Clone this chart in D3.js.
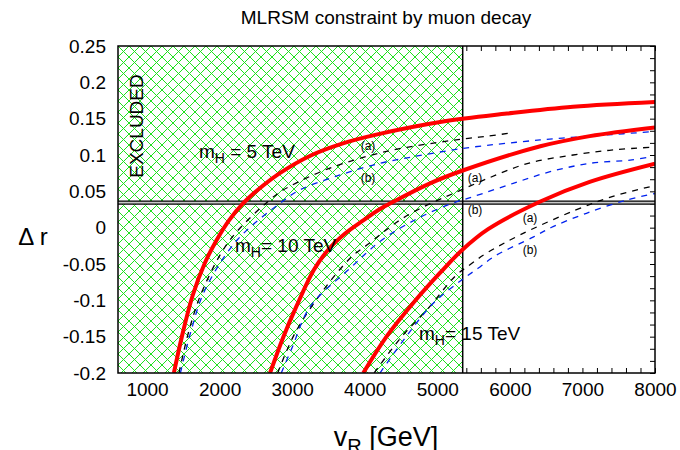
<!DOCTYPE html>
<html>
<head>
<meta charset="utf-8">
<script src="https://cdn.jsdelivr.net/npm/d3@7"></script>
<style>
body { margin: 0; background: #fff; }
text { font-family: "Liberation Sans", Arial, sans-serif; }
</style>
</head>
<body>
<div id="chart"></div>
<script>
// values: vR in GeV, delta r
var xTickLabels = [1000, 2000, 3000, 4000, 5000, 6000, 7000, 8000];
var yTickValues = [-0.2, -0.15, -0.1, -0.05, 0, 0.05, 0.1, 0.15, 0.2, 0.25];
var yTickLabels = ["-0.2", "-0.15", "-0.1", "-0.05", "0", "0.05", "0.1", "0.15", "0.2", "0.25"];

// red curves, one per mH
var vrRed5 = [1370, 1480, 1630, 1800, 1960, 2130, 2330, 2600, 2830, 3250, 3700, 4160, 5080, 5960, 6870, 8000];
var drRed5 = [-0.200, -0.150, -0.093, -0.048, -0.017, 0.010, 0.034, 0.058, 0.075, 0.099, 0.116, 0.128, 0.146, 0.157, 0.1665, 0.173];
var vrRed10 = [2695, 2880, 3060, 3300, 3500, 3730, 3980, 4200, 4420, 4900, 5360, 6420, 7100, 8000];
var drRed10 = [-0.200, -0.150, -0.108, -0.058, -0.030, -0.008, 0.010, 0.025, 0.037, 0.061, 0.079, 0.112, 0.126, 0.138];
var vrRed15 = [3980, 4300, 4700, 5040, 5350, 5700, 6420, 7100, 8000];
var drRed15 = [-0.200, -0.150, -0.100, -0.062, -0.030, -0.002, 0.036, 0.063, 0.088];

// dashed (a) black and (b) blue curves
var vrA5 = [1440, 1580, 1766, 2143, 2763, 2970, 3521, 4301, 5128, 5426, 5701, 5990];
var drA5 = [-0.200, -0.141, -0.086, -0.017, 0.044, 0.057, 0.082, 0.105, 0.119, 0.123, 0.126, 0.130];
var vrB5 = [1460, 1610, 1797, 2243, 2878, 3108, 3659, 4210, 4670, 5150, 5495, 6417, 7333, 7950];
var drB5 = [-0.200, -0.141, -0.086, -0.017, 0.037, 0.052, 0.0725, 0.0886, 0.0977, 0.106, 0.111, 0.1207, 0.1276, 0.132];
var vrA10 = [2800, 3040, 3430, 3820, 4030, 4233, 4486, 4738, 4991, 5220, 5701, 6252, 6872, 7423, 7950];
var drA10 = [-0.200, -0.145, -0.086, -0.040, -0.024, -0.008, 0.0106, 0.025, 0.037, 0.047, 0.068, 0.0886, 0.100, 0.107, 0.1106];
var vrB10 = [2850, 3000, 3246, 3797, 4210, 4690, 5190, 5495, 6046, 6555, 7106, 7658, 7950];
var drB10 = [-0.200, -0.165, -0.109, -0.056, -0.019, 0.0106, 0.033, 0.0427, 0.061, 0.077, 0.0886, 0.093, 0.0977];
var vrA15 = [4130, 4509, 4876, 5244, 5450, 5680, 6140, 6900, 7420, 8000];
var drA15 = [-0.200, -0.150, -0.111, -0.067, -0.051, -0.035, -0.010, 0.024, 0.043, 0.058];
var vrB15 = [4210, 4555, 4945, 5336, 5588, 5795, 6320, 6595, 7055, 7607, 8000];
var drB15 = [-0.200, -0.152, -0.104, -0.072, -0.054, -0.039, -0.013, 0.0014, 0.0198, 0.038, 0.047];

// muon decay band and excluded vR
var bandLow = 0.0325, bandHigh = 0.0366;
var excludedVR = 5350;

var width = 680, height = 450;
var pL = 118, pR = 655, pT = 46, pB = 373;

var svg = d3.select("#chart").append("svg")
    .attr("width", width)
    .attr("height", height);

var x = d3.scaleLinear().domain([600, 8000]).range([pL, pR]);
var y = d3.scaleLinear().domain([-0.2, 0.25]).range([pB, pT]);

var defs = svg.append("defs");
var pat = defs.append("pattern")
    .attr("id", "hatch")
    .attr("patternUnits", "userSpaceOnUse")
    .attr("x", pL).attr("y", pT)
    .attr("width", 11).attr("height", 11);
pat.append("rect").attr("width", 11).attr("height", 11).attr("fill", "#fff");
pat.append("path")
    .attr("d", "M0,0L11,11M11,0L0,11M-1,10L1,12M10,-1L12,1M-1,1L1,-1M10,12L12,10")
    .attr("stroke", "#1ee01e")
    .attr("stroke-width", 1);

defs.append("clipPath").attr("id", "plot")
    .append("rect")
    .attr("x", pL).attr("y", pT)
    .attr("width", pR - pL).attr("height", pB - pT);

// inward minor ticks
var minorX = d3.range(600, 8001, 200);
var minorY = d3.range(0, 28).map(function (i) { return -0.2 + i / 60; });

svg.append("g")
    .attr("transform", "translate(0," + pB + ")")
    .call(d3.axisBottom(x).tickValues(minorX).tickSize(-5).tickFormat(""))
    .call(function (g) { g.select(".domain").remove(); });
svg.append("g")
    .attr("transform", "translate(0," + pT + ")")
    .call(d3.axisTop(x).tickValues(minorX).tickSize(-5).tickFormat(""))
    .call(function (g) { g.select(".domain").remove(); });
svg.append("g")
    .attr("transform", "translate(" + pR + ",0)")
    .call(d3.axisRight(y).tickValues(minorY).tickSize(-5).tickFormat(""))
    .call(function (g) { g.select(".domain").remove(); });

// tick labels
svg.append("g")
    .attr("transform", "translate(0," + pB + ")")
    .call(d3.axisBottom(x).tickValues(xTickLabels).tickSize(0).tickPadding(10)
        .tickFormat(function (d) { return d; }))
    .call(function (g) {
        g.select(".domain").remove();
        g.selectAll("text").attr("font-size", 19).attr("fill", "#000")
            .attr("font-family", "Liberation Sans, Arial, sans-serif");
    });
svg.append("g")
    .attr("transform", "translate(" + pL + ",0)")
    .call(d3.axisLeft(y).tickValues(yTickValues).tickSize(0).tickPadding(12)
        .tickFormat(function (d, i) { return yTickLabels[i]; }))
    .call(function (g) {
        g.select(".domain").remove();
        g.selectAll("text").attr("font-size", 19).attr("fill", "#000")
            .attr("font-family", "Liberation Sans, Arial, sans-serif");
    });

// excluded region
svg.append("rect")
    .attr("x", pL).attr("y", pT)
    .attr("width", x(excludedVR) - pL)
    .attr("height", pB - pT)
    .attr("fill", "url(#hatch)");

// band from muon decay
svg.append("rect")
    .attr("x", pL).attr("y", y(bandHigh))
    .attr("width", pR - pL)
    .attr("height", y(bandLow) - y(bandHigh))
    .attr("fill", "#c8c8c8");
[bandLow, bandHigh].forEach(function (v) {
    svg.append("line")
        .attr("x1", pL).attr("x2", pR)
        .attr("y1", y(v)).attr("y2", y(v))
        .attr("stroke", "#000").attr("stroke-width", 1.2);
});
svg.append("line")
    .attr("x1", x(excludedVR)).attr("x2", x(excludedVR))
    .attr("y1", pT).attr("y2", pB)
    .attr("stroke", "#000").attr("stroke-width", 1.5);

var line = d3.line()
    .x(function (d) { return x(d[0]); })
    .y(function (d) { return y(d[1]); })
    .curve(d3.curveCatmullRom.alpha(0.5));

function pairs(a, b) { return a.map(function (v, i) { return [v, b[i]]; }); }

var curves = [
    { data: pairs(vrA5, drA5), color: "#000", w: 1.3, dash: "6,6" },
    { data: pairs(vrB5, drB5), color: "#0022ee", w: 1.3, dash: "6,6" },
    { data: pairs(vrA10, drA10), color: "#000", w: 1.3, dash: "6,6" },
    { data: pairs(vrB10, drB10), color: "#0022ee", w: 1.3, dash: "6,6" },
    { data: pairs(vrA15, drA15), color: "#000", w: 1.3, dash: "6,6" },
    { data: pairs(vrB15, drB15), color: "#0022ee", w: 1.3, dash: "6,6" },
    { data: pairs(vrRed5, drRed5), color: "#ff0000", w: 4, dash: null },
    { data: pairs(vrRed10, drRed10), color: "#ff0000", w: 4, dash: null },
    { data: pairs(vrRed15, drRed15), color: "#ff0000", w: 4, dash: null }
];

svg.append("g").attr("clip-path", "url(#plot)")
    .selectAll("path")
    .data(curves)
    .enter()
    .append("path")
    .attr("d", function (d) { return line(d.data); })
    .attr("fill", "none")
    .attr("stroke", function (d) { return d.color; })
    .attr("stroke-width", function (d) { return d.w; })
    .attr("stroke-dasharray", function (d) { return d.dash; });

// frame
svg.append("rect")
    .attr("x", pL).attr("y", pT)
    .attr("width", pR - pL).attr("height", pB - pT)
    .attr("fill", "none")
    .attr("stroke", "#000").attr("stroke-width", 1.5);

// labels
svg.append("text")
    .attr("x", 386).attr("y", 24)
    .attr("text-anchor", "middle")
    .attr("font-size", 19)
    .text("MLRSM constraint by muon decay");

svg.append("text")
    .attr("transform", "translate(143,126) rotate(-90)")
    .attr("text-anchor", "middle")
    .attr("font-size", 19)
    .text("EXCLUDED");

function massLabel(px, py, mid) {
    var t = svg.append("text").attr("x", px).attr("y", py).attr("font-size", 19);
    t.append("tspan").text("m");
    t.append("tspan").attr("dy", 5).attr("font-size", 14).text("H");
    t.append("tspan").attr("dy", -5).text(mid);
}
massLabel(199, 158, " = 5 TeV");
massLabel(235, 252, "= 10 TeV");
massLabel(419, 340, "= 15 TeV");

var abLabels = [
    ["(a)", 368, 150], ["(b)", 368, 182],
    ["(a)", 475, 182], ["(b)", 475, 214],
    ["(a)", 530, 222], ["(b)", 530, 254]
];
svg.selectAll(".ab")
    .data(abLabels)
    .enter()
    .append("text")
    .attr("class", "ab")
    .attr("x", function (d) { return d[1]; })
    .attr("y", function (d) { return d[2]; })
    .attr("text-anchor", "middle")
    .attr("font-size", 12)
    .text(function (d) { return d[0]; });

svg.append("text")
    .attr("x", 33).attr("y", 245)
    .attr("text-anchor", "middle")
    .attr("font-size", 24)
    .text("\u0394 r");

var xl = svg.append("text")
    .attr("x", 386).attr("y", 446)
    .attr("text-anchor", "middle")
    .attr("font-size", 27);
xl.append("tspan").text("v");
xl.append("tspan").attr("dy", 7).attr("font-size", 20).text("R");
xl.append("tspan").attr("dy", -7).text(" [GeV]");
</script>
</body>
</html>
